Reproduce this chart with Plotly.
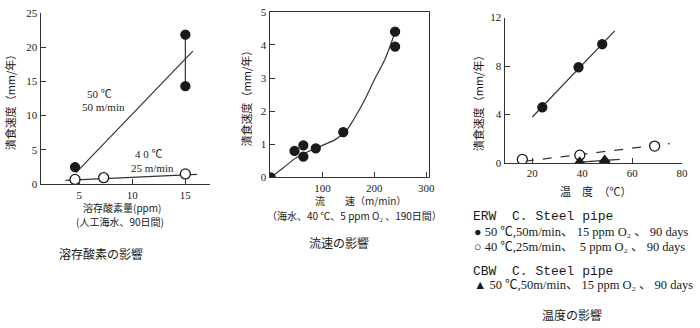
import plotly.graph_objects as go

W, H = 700, 328

# ---- Chart 1: dissolved oxygen ----
do_50_x = [4.6, 15, 15]
do_50_y = [2.5, 21.8, 14.3]
do_50_fit_x = [4.7, 15.7]
do_50_fit_y = [1.7, 19.4]
do_50_link_x = [15, 15]
do_50_link_y = [21.8, 14.3]
do_40_x = [4.6, 7.3, 15]
do_40_y = [0.7, 0.95, 1.5]
do_40_fit_x = [3.7, 16.1]
do_40_fit_y = [0.56, 1.45]

# ---- Chart 2: flow velocity ----
fv_x = [0, 46, 63, 63, 87, 140, 240, 240]
fv_y = [0, 0.8, 0.97, 0.63, 0.88, 1.37, 4.4, 3.95]
fv_curve_x = [0, 25, 50, 75, 100, 125, 145, 160, 180, 200, 220, 238]
fv_curve_y = [0, 0.3, 0.6, 0.8, 0.97, 1.15, 1.4, 1.75, 2.3, 2.95, 3.55, 4.3]

# ---- Chart 3: temperature ----
t_50_x = [24, 38.5, 48]
t_50_y = [4.6, 7.9, 9.8]
t_50_fit_x = [20, 53]
t_50_fit_y = [3.8, 10.9]
t_40_x = [16, 39, 69]
t_40_y = [0.3, 0.65, 1.4]
t_40_fit_x = [17, 75]
t_40_fit_y = [0.15, 1.6]
t_cbw_x = [39, 49]
t_cbw_y = [0.1, 0.25]
t_cbw_fit_x = [39, 55]
t_cbw_fit_y = [0.08, 0.3]

INK = "#1a1a1a"
LINE = "#333333"
JP = "Noto Sans CJK JP"
SERIF = "Liberation Serif, Noto Sans CJK JP"


def fx(p):
    return p / W


def fy(p):
    return 1 - p / H


fig = go.Figure()


def line(x, y, ax, dash="solid", shape="linear"):
    fig.add_trace(go.Scatter(x=x, y=y, mode="lines", xaxis=ax[0], yaxis=ax[1],
                             line=dict(color=LINE, width=1.2, dash=dash, shape=shape),
                             hoverinfo="skip", showlegend=False))


def pts(x, y, ax, symbol="circle", filled=True, size=9):
    fig.add_trace(go.Scatter(x=x, y=y, mode="markers", xaxis=ax[0], yaxis=ax[1],
                             marker=dict(symbol=symbol, size=size,
                                         color=INK if filled else "white",
                                         line=dict(color=INK, width=1.3)),
                             showlegend=False))


A1 = ("x", "y")
A2 = ("x2", "y2")
A3 = ("x3", "y3")

line(do_50_fit_x, do_50_fit_y, A1)
line(do_50_link_x, do_50_link_y, A1)
line(do_40_fit_x, do_40_fit_y, A1)
pts(do_50_x, do_50_y, A1)
pts(do_40_x, do_40_y, A1, filled=False, size=10)

line(fv_curve_x, fv_curve_y, A2, shape="spline")
pts(fv_x, fv_y, A2)

line(t_50_fit_x, t_50_fit_y, A3)
line(t_40_fit_x, t_40_fit_y, A3, dash="dash")
line(t_cbw_fit_x, t_cbw_fit_y, A3)
pts(t_50_x, t_50_y, A3)
pts(t_40_x, t_40_y, A3, filled=False, size=10)
pts(t_cbw_x, t_cbw_y, A3, symbol="triangle-up", size=9)

tickfont = dict(family=SERIF, size=11, color=INK)
axbase = dict(showgrid=False, zeroline=False, showline=True, linecolor=LINE, linewidth=1.2,
              ticks="inside", ticklen=5, tickcolor=LINE, tickfont=tickfont)

fig.update_layout(
    width=W, height=H, margin=dict(l=0, r=0, t=0, b=0),
    paper_bgcolor="white", plot_bgcolor="white",
    xaxis=dict(axbase, domain=[fx(41), fx(212)], range=[1.36, 17.34],
               tickvals=[5, 10, 15], anchor="y", ticklabelstandoff=0),
    yaxis=dict(axbase, domain=[fy(185), fy(7)], range=[0, 25],
               tickvals=[0, 5, 10, 15, 20, 25], anchor="x"),
    xaxis2=dict(axbase, domain=[fx(272), fx(433)], range=[-2, 306],
                tickvals=[100, 200, 300], anchor="y2", mirror=True, ticklabelstandoff=0),
    yaxis2=dict(axbase, domain=[fy(178), fy(6)], range=[0, 5],
                tickvals=[0, 1, 2, 3, 4, 5], anchor="x2", mirror=True),
    xaxis3=dict(axbase, domain=[fx(509), fx(688)], range=[8.9, 80],
                tickvals=[20, 40, 60, 80], anchor="y3", ticklabelstandoff=0),
    yaxis3=dict(axbase, domain=[fy(163), fy(12)], range=[0, 12],
                tickvals=[0, 4, 8, 12], anchor="x3"),
)

anns = [
    # chart 1
    ("50 ℃", 100, 91, 11, SERIF, "center", 0),
    ("50 m/min", 104, 105, 11, SERIF, "center", 0),
    ("4 0 ℃", 150, 154, 11, SERIF, "center", 0),
    ("25 m/min", 154, 168, 11, SERIF, "center", 0),
    ("溶存酸素量(ppm)", 123, 209, 10, JP, "center", 0),
    ("(人工海水、90日間)", 121, 224, 10, JP, "center", 0),
    ("溶存酸素の影響", 102, 257, 12, JP, "center", 0),
    ("潰食速度（mm/年）", 11, 97, 11, JP, "center", -90),
    # chart 2
    ("流　　速（m/min）", 364, 202, 10, JP, "center", 0),
    ("（海水、40 ℃、5 ppm O₂ 、190日間）", 358, 217, 10, JP, "center", 0),
    ("流速の影響", 342, 245, 12, JP, "center", 0),
    ("潰食速度（mm/年）", 248, 93, 11, JP, "center", -90),
    # chart 3
    ("潰食速度（mm/年）", 483, 98, 11, JP, "center", -90),
    ("温　度　（℃）", 601, 192, 11, JP, "center", 0),
    ("ERW  C. Steel pipe", 475, 218, 13, "Liberation Mono", "left", 0),
    ("● 50 ℃,50m/min、 15 ppm O₂ 、 90 days", 476, 235, 12.5, SERIF, "left", 0),
    ("○ 40 ℃,25m/min、  5 ppm O₂ 、 90 days", 476, 250, 12.5, SERIF, "left", 0),
    ("CBW  C. Steel pipe", 475, 276, 13, "Liberation Mono", "left", 0),
    ("▲ 50 ℃,50m/min、 15 ppm O₂ 、 90 days", 476, 290, 12.5, SERIF, "left", 0),
    ("温度の影響", 577, 320, 12, JP, "center", 0),
]
for text, x, y, size, fam, align, ang in anns:
    fig.add_annotation(text=text, x=fx(x), y=fy(y), xref="paper", yref="paper",
                       xanchor=align, yanchor="middle", showarrow=False, textangle=ang,
                       font=dict(family=fam, size=size, color=INK))

fig.write_html("out.html")
